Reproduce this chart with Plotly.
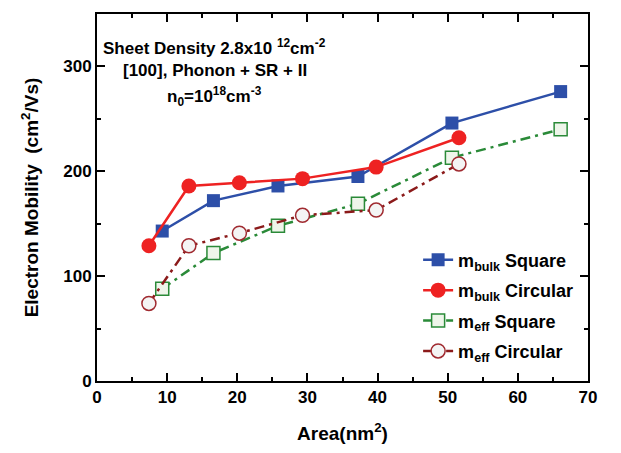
import plotly.graph_objects as go

# Data
area_sq = [9.3, 16.6, 25.8, 37.2, 50.6, 66.1]
area_circ = [7.4, 13.1, 20.3, 29.3, 39.8, 51.6]
mbulk_square = [143, 172, 186, 195, 246, 276]
mbulk_circular = [129, 186, 189, 193, 204, 232]
meff_square = [88, 122, 148, 169, 213, 240]
meff_circular = [74, 129, 141, 158, 163, 207]

x_ticks = [0, 10, 20, 30, 40, 50, 60, 70]
y_ticks = [0, 100, 200, 300]

FONT = "Liberation Sans, Arial, sans-serif"

fig = go.Figure()
fig.add_trace(go.Scatter(
    x=area_sq, y=mbulk_square, mode="lines+markers",
    name="m<sub>bulk</sub> Square", legendgroup="a",
    line=dict(color="#2d4fa8", width=2.5),
    marker=dict(symbol="square", size=13, color="#2d4fa8")))
fig.add_trace(go.Scatter(
    x=area_circ, y=mbulk_circular, mode="lines+markers",
    name="m<sub>bulk</sub> Circular", legendgroup="b",
    line=dict(color="#ee2222", width=2.5),
    marker=dict(symbol="circle", size=15, color="#ee2222")))
fig.add_trace(go.Scatter(
    x=area_sq, y=meff_square, mode="lines+markers",
    name="m<sub>eff</sub> Square", legendgroup="c",
    line=dict(color="#2a8a38", width=2.5, dash="10px,5px,3px,5px"),
    marker=dict(symbol="square", size=13, color="#eef5ea",
                line=dict(color="#2a8a38", width=1.5))))
fig.add_trace(go.Scatter(
    x=area_circ, y=meff_circular, mode="lines+markers",
    name="m<sub>eff</sub> Circular", legendgroup="d",
    line=dict(color="#8b1a1a", width=2.5, dash="10px,5px,3px,5px"),
    marker=dict(symbol="circle", size=14, color="#f4f4f4",
                line=dict(color="#a02a30", width=1.5))))

axis_common = dict(
    showline=True, linecolor="black", linewidth=2, mirror="allticks",
    ticks="inside", ticklen=8, tickwidth=2, tickcolor="black",
    showgrid=False, zeroline=False,
    tickfont=dict(family=FONT, size=17, color="black", weight="bold"),
)

fig.update_xaxes(
    range=[0, 70], tickvals=x_ticks,
    minor=dict(ticks="inside", ticklen=4, tickwidth=2, dtick=5, tickcolor="black"),
    title=dict(text="Area(nm<sup>2</sup>)", standoff=20,
               font=dict(family=FONT, size=19, color="black", weight="bold")),
    **axis_common)
fig.update_yaxes(
    range=[0, 350], tickvals=y_ticks,
    minor=dict(ticks="inside", ticklen=4, tickwidth=2, dtick=50, tickcolor="black"),
    title=dict(text="Electron Mobility  (cm<sup>2</sup>/Vs)", standoff=20,
               font=dict(family=FONT, size=19, color="black", weight="bold")),
    **axis_common)

ann_font = dict(family=FONT, size=17, color="black", weight="bold")
fig.add_annotation(x=0.24, y=0.911, xref="paper", yref="paper", showarrow=False,
                   xanchor="center", yanchor="middle",
                   text="Sheet Density 2.8x10 <sup>12</sup>cm<sup>-2</sup>", font=ann_font)
fig.add_annotation(x=0.24, y=0.846, xref="paper", yref="paper", showarrow=False,
                   xanchor="center", yanchor="middle",
                   text="[100], Phonon + SR + II", font=ann_font)
fig.add_annotation(x=0.24, y=0.776, xref="paper", yref="paper", showarrow=False,
                   xanchor="center", yanchor="middle",
                   text="n<sub>0</sub>=10<sup>18</sup>cm<sup>-3</sup>", font=ann_font)

fig.update_layout(
    width=605, height=437,
    margin=dict(l=89, r=25, t=4, b=63),
    paper_bgcolor="white", plot_bgcolor="white",
    showlegend=True,
    legend=dict(x=0.654, y=0.38, xanchor="left", yanchor="top",
                bgcolor="rgba(0,0,0,0)", tracegroupgap=4,
                font=dict(family=FONT, size=18, color="black", weight="bold")),
)

fig.write_html("out.html")
